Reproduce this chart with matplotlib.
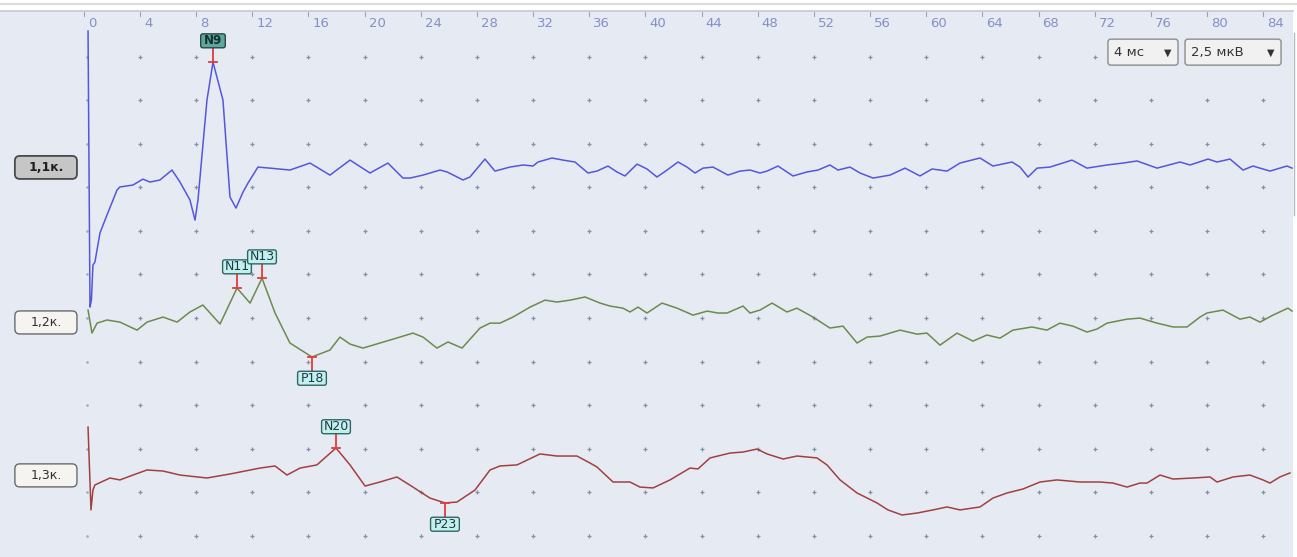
import matplotlib
matplotlib.use('Agg')
import matplotlib.pyplot as plt
from matplotlib.patches import FancyBboxPatch
from matplotlib.lines import Line2D

# sweep times, ms
t1 = [0.30, 0.44, 0.54, 0.65, 0.79, 1.15, 1.65, 2.08, 2.36, 2.57, 3.50, 4.21, 4.71, 5.42, 6.28,
      6.85, 7.56, 7.92, 8.13, 8.77, 9.20, 9.91, 10.41, 10.84, 11.34, 11.69, 12.40, 13.26, 14.68,
      16.11, 17.53, 18.96, 20.38, 21.66, 22.73, 23.23, 24.16, 25.37, 25.87, 27.01, 27.50, 28.57,
      29.28, 30.35, 31.28, 31.99, 32.35, 33.34, 34.13, 34.98, 35.91, 36.55, 37.33, 37.97, 38.54,
      39.40, 40.11, 40.82, 41.54, 42.32, 42.96, 43.53, 44.10, 44.81, 45.88, 46.73, 47.45, 48.16,
      48.66, 49.44, 50.51, 51.51, 52.29, 53.14, 53.71, 54.57, 55.28, 56.21, 57.42, 58.49, 59.55,
      60.41, 61.48, 62.40, 63.83, 64.75, 66.11, 66.68, 67.25, 67.89, 68.81, 70.38, 71.45, 72.87,
      74.01, 75.01, 76.44, 78.07, 78.79, 80.07, 80.71, 81.63, 82.56, 83.27, 84.48, 85.69, 86.05]
# channel 1,1 amplitude, uV
v1 = [7.97, -7.86, -7.45, -5.45, -5.28, -3.61, -2.58, -1.72, -1.15, -0.97, -0.86, -0.52, -0.69,
      -0.57, 0.00, -0.69, -1.72, -2.87, -1.72, 4.01, 6.19, 4.01, -1.55, -2.18, -1.26, -0.75, 0.17,
      0.11, 0.00, 0.40, -0.29, 0.57, -0.17, 0.40, -0.46, -0.46, -0.29, 0.00, -0.11, -0.57, -0.40,
      0.63, -0.06, 0.17, 0.29, 0.23, 0.46, 0.69, 0.57, 0.46, -0.17, -0.06, 0.23, -0.11, -0.34,
      0.34, 0.06, -0.40, 0.00, 0.46, 0.17, -0.17, 0.11, 0.17, -0.29, -0.06, 0.00, -0.17, -0.06,
      0.23, -0.34, -0.11, 0.00, 0.29, 0.00, 0.17, -0.17, -0.46, -0.29, 0.11, -0.34, 0.06, -0.06,
      0.40, 0.69, 0.23, 0.46, 0.17, -0.40, 0.11, 0.17, 0.57, 0.11, 0.29, 0.40, 0.52, 0.11, 0.46,
      0.29, 0.63, 0.46, 0.63, 0.00, 0.23, -0.06, 0.23, 0.11]

t2 = [0.30, 0.58, 0.94, 1.65, 2.57, 3.79, 4.50, 5.64, 6.64, 7.56, 8.48, 9.70, 10.91, 11.84, 12.69,
      13.62, 14.68, 16.25, 17.53, 18.24, 18.96, 19.88, 21.09, 21.80, 22.51, 23.44, 24.16, 25.15,
      25.94, 26.94, 28.22, 28.93, 29.64, 30.57, 31.78, 32.85, 33.70, 34.63, 35.70, 36.77, 37.48,
      38.40, 38.90, 39.47, 40.11, 41.18, 42.25, 43.39, 44.39, 45.17, 45.81, 46.95, 47.45, 48.16,
      49.02, 50.08, 50.79, 51.93, 53.14, 54.07, 55.07, 55.78, 56.71, 58.13, 59.34, 60.05, 60.98,
      62.19, 63.33, 64.32, 65.25, 66.17, 67.53, 68.59, 69.52, 70.44, 71.45, 72.16, 72.87, 74.30,
      75.22, 76.44, 77.58, 78.57, 79.50, 79.99, 81.13, 82.34, 83.05, 83.77, 84.69, 85.76, 86.05]
v2 = [0.86, -0.46, 0.11, 0.29, 0.17, -0.29, 0.17, 0.46, 0.17, 0.75, 1.15, 0.06, 2.12, 1.26, 2.69,
      0.69, -1.03, -1.83, -1.43, -0.69, -1.09, -1.32, -1.03, -0.86, -0.69, -0.46, -0.69, -1.32,
      -0.97, -1.32, -0.17, 0.11, 0.11, 0.46, 1.03, 1.43, 1.32, 1.43, 1.61, 1.26, 1.09, 0.97, 0.75,
      1.03, 0.69, 1.26, 0.97, 0.57, 0.80, 0.69, 0.69, 1.09, 0.69, 0.86, 1.26, 0.75, 0.97, 0.46,
      -0.17, -0.06, -1.03, -0.69, -0.63, -0.29, -0.52, -0.46, -1.15, -0.46, -0.92, -0.57, -0.75,
      -0.29, -0.11, -0.29, 0.11, -0.06, -0.40, -0.23, 0.11, 0.34, 0.40, 0.11, -0.11, -0.11, 0.46,
      0.69, 0.86, 0.34, 0.46, 0.17, 0.57, 0.97, 0.80]

t3 = [0.30, 0.37, 0.51, 0.65, 0.79, 1.86, 2.57, 3.50, 4.50, 5.64, 6.85, 8.77, 10.41, 12.55, 13.62,
      14.47, 15.40, 16.60, 17.96, 18.96, 20.03, 21.09, 22.30, 23.44, 24.65, 25.72, 26.57, 27.86,
      28.93, 29.64, 30.85, 32.49, 33.70, 35.12, 36.05, 36.55, 37.69, 38.90, 39.61, 40.54, 41.75,
      43.17, 43.74, 44.60, 46.02, 46.95, 47.94, 48.66, 49.80, 50.79, 52.22, 52.93, 53.86, 55.07,
      56.49, 57.27, 58.27, 59.34, 60.48, 61.48, 62.40, 63.83, 64.75, 65.75, 66.89, 68.10, 69.31,
      70.95, 72.37, 73.30, 74.30, 75.22, 75.72, 76.65, 77.58, 79.00, 80.21, 80.71, 81.85, 83.05,
      83.98, 84.48, 85.19, 85.90]
v3 = [2.92, 1.32, -1.83, -0.69, -0.40, 0.00, -0.11, 0.17, 0.46, 0.40, 0.17, 0.00, 0.23, 0.57, 0.69,
      0.17, 0.57, 0.75, 1.72, 0.75, -0.46, -0.23, 0.06, -0.52, -1.15, -1.43, -1.38, -0.69, 0.46,
      0.69, 0.75, 1.38, 1.26, 1.26, 0.86, 0.63, -0.23, -0.23, -0.52, -0.57, -0.11, 0.57, 0.52,
      1.15, 1.43, 1.49, 1.66, 1.38, 1.09, 1.26, 1.15, 0.75, -0.11, -0.86, -1.43, -1.83, -2.12,
      -2.01, -1.83, -1.66, -1.83, -1.66, -1.15, -0.86, -0.63, -0.23, -0.11, -0.23, -0.23, -0.29,
      -0.52, -0.29, -0.29, 0.17, -0.06, 0.00, 0.06, -0.23, 0.06, 0.17, -0.11, -0.29, 0.06, 0.29]

channels = ['1,1к.', '1,2к.', '1,3к.']
times = [t1, t2, t3]
values = [v1, v2, v3]

# marked peaks: channel index, name, latency (ms), amplitude (uV)
peak_chan = [0, 1, 1, 1, 2, 2]
peak_names = ['N9', 'N11', 'N13', 'P18', 'N20', 'P23']
peak_ms = [9.20, 10.91, 12.69, 16.25, 17.96, 25.72]
peak_uv = [6.19, 2.12, 2.69, -1.83, 1.72, -1.43]

ticks = list(range(0, 85, 4))
sweep_label = '4 мс'
gain_label = '2,5 мкВ'
gain = 2.5  # uV per division

# layout / style
offsets = [22.19, 13.30, 4.53]
colors = ['#5656dc', '#6d8a4e', '#a3403f']
bg = '#e6ebf3'
XMIN, XMAX = -5.97, 86.12
YMAX = 31.31

W, H = 1297, 557
fig = plt.figure(figsize=(W / 100, H / 100), dpi=100)
fig.patch.set_facecolor('white')
ax = fig.add_axes([0, 0, 1293 / W, 546 / H])
ax.set_facecolor(bg)
ax.set_xlim(XMIN, XMAX)
ax.set_ylim(0, YMAX)
ax.set_xticks([])
ax.set_yticks([])
for s in ['left', 'bottom', 'right']:
    ax.spines[s].set_visible(False)
ax.spines['top'].set_color('#c5c9d0')
ax.spines['top'].set_linewidth(1.2)

# header strip and scroll bar edge
fig.add_artist(Line2D([0, 1], [1 - 3.5 / H] * 2, color='#dcdcdc', lw=1.5))
fig.add_artist(Line2D([1293.5 / W] * 2, [1 - 33 / H, 1 - 215 / H], color='#b4b8c0', lw=1))

# dotted grid
rows = [1.2 + gain * k for k in range(12)]
for t in ticks[1:]:
    ax.plot([t] * len(rows), rows, ls='none', marker='+', ms=3.2, mew=0.9,
            color='#858ea7', zorder=1)
ax.plot([0.2] * len(rows), rows, ls='none', marker='.', ms=1.8, color='#a3abbf', zorder=1)

# time axis on top
for t in ticks:
    ax.plot([t, t], [31.0, 31.25], color='#9aa2b6', lw=0.8, zorder=1)
    ax.text(t + 0.28, 30.62, str(t), ha='left', va='center', fontsize=9.5,
            color='#8490c8', zorder=2)


def rbox(xc, yc, w, h, fc, ec, lw=1.0, r=0.3):
    p = FancyBboxPatch((xc - w / 2, yc - h / 2), w, h,
                       boxstyle='round,pad=0,rounding_size=%g' % r,
                       mutation_aspect=0.8, fc=fc, ec=ec, lw=lw, zorder=5)
    ax.add_patch(p)


# traces
for i in range(3):
    y = [offsets[i] + v for v in values[i]]
    ax.plot(times[i], y, color=colors[i], lw=1.1, zorder=3)

# channel labels
for i, name in enumerate(channels):
    yc = offsets[i] + 0.15
    if i == 0:
        rbox(-2.70, yc, 4.42, 1.32, '#c6c6c6', '#4a4a4a', lw=1.3, r=0.35)
        ax.text(-2.70, yc, name, ha='center', va='center', fontsize=9,
                fontweight='bold', color='#202020', zorder=6)
    else:
        rbox(-2.70, yc, 4.42, 1.32, '#f6f4f1', '#6a6a6a', lw=1.0, r=0.35)
        ax.text(-2.70, yc, name, ha='center', va='center', fontsize=9,
                color='#303030', zorder=6)

# peak marks
for c, name, tm, uv in zip(peak_chan, peak_names, peak_ms, peak_uv):
    y0 = offsets[c] + uv
    sgn = 1 if name.startswith('N') else -1
    ax.plot([tm, tm], [y0, y0 + sgn * 0.85], color='#e23a3a', lw=1.3, zorder=4)
    ax.plot([tm - 0.28, tm + 0.28], [y0, y0], color='#e23a3a', lw=1.3, zorder=4)
    yc = y0 + sgn * 1.22
    if name == 'N9':
        rbox(tm, yc, 1.75, 0.80, '#5ea79e', '#2a4544', lw=1.0, r=0.15)
        ax.text(tm, yc, name, ha='center', va='center', fontsize=8.5,
                fontweight='bold', color='#14302e', zorder=6)
    else:
        w = 1.6 + 0.45 * (len(name) - 2)
        rbox(tm, yc, w, 0.80, '#c3f0ec', '#2e6766', lw=1.0, r=0.15)
        ax.text(tm, yc, name, ha='center', va='center', fontsize=9,
                color='#1d3a4a', zorder=6)

# sweep / gain selectors
for x0, x1, lab in [(72.94, 77.93, sweep_label), (78.43, 85.27, gain_label)]:
    rbox((x0 + x1) / 2, 28.95, x1 - x0, 1.49, '#f1f1f1', '#8c8c8c', lw=1.0, r=0.2)
    ax.text(x0 + 0.45, 28.95, lab, ha='left', va='center', fontsize=9.5,
            color='#333333', zorder=6)
    ax.text(x1 - 0.5, 28.9, '▼', ha='right', va='center', fontsize=7,
            color='#333333', zorder=6)

fig.savefig('out.png', dpi=100, facecolor=fig.get_facecolor())
